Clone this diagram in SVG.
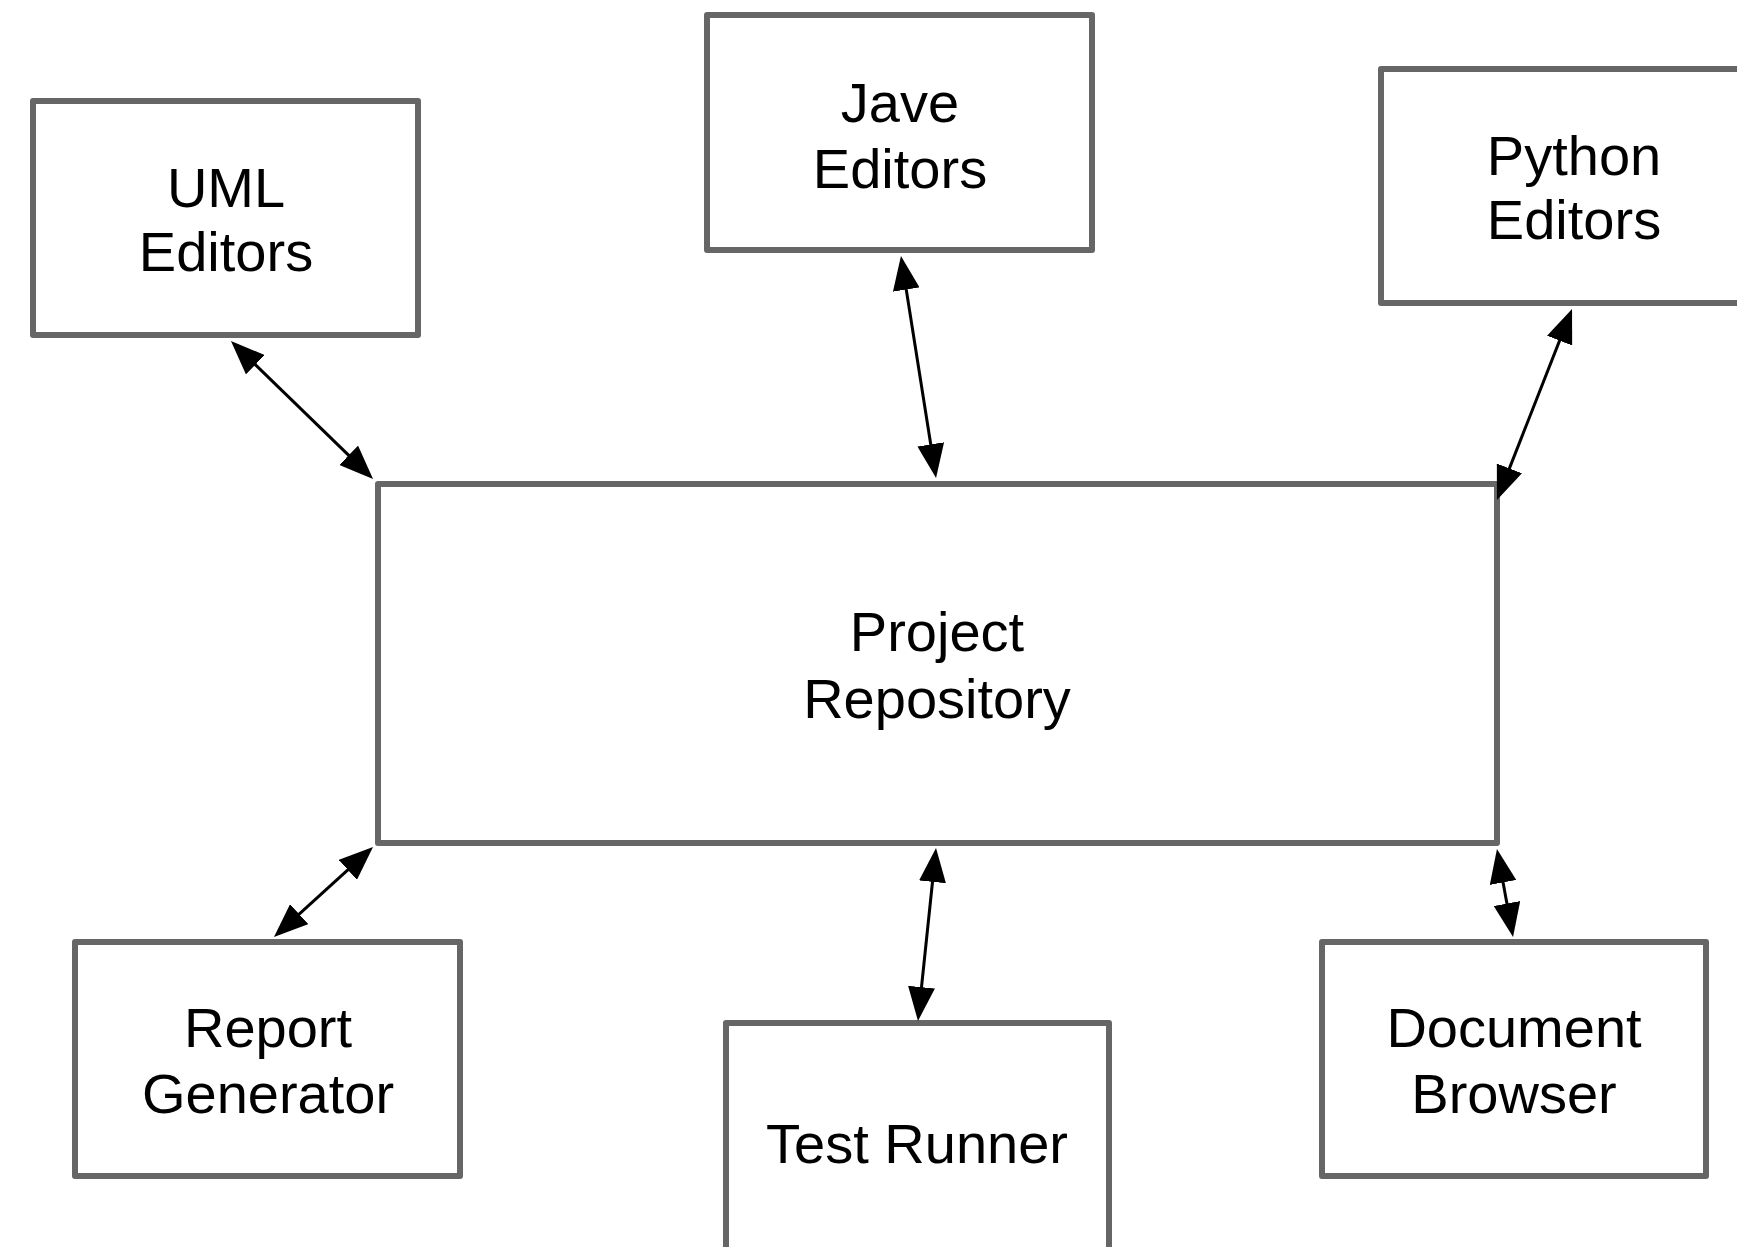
<svg xmlns="http://www.w3.org/2000/svg" width="1737" height="1247" viewBox="0 0 1737 1247">
  <style>
    .box { fill: #ffffff; stroke: #666666; stroke-width: 6; stroke-linejoin: round; }
    .label { font-family: "Liberation Sans", Arial, Helvetica, sans-serif; font-size: 56px; fill: #000000; text-anchor: middle; }
    .link { fill: none; stroke: #000000; stroke-width: 3; marker-start: url(#arrow); marker-end: url(#arrow); }
  </style>
  <defs>
    <!-- filled arrowhead used at both ends of every link; tip sits 8px past the line end -->
    <marker id="arrow" viewBox="0 0 34 27" refX="26" refY="13.5" markerWidth="34" markerHeight="27" markerUnits="userSpaceOnUse" orient="auto-start-reverse">
      <path d="M0,0 L34,13.5 L0,27 Z" fill="#000000"/>
    </marker>
  </defs>
  <rect width="1737" height="1247" fill="#ffffff"/>

  <g id="uml-editors">
    <rect class="box" x="33" y="101" width="385" height="234"/>
    <text class="label" x="226" y="207">UML</text>
    <text class="label" x="226" y="271">Editors</text>
  </g>

  <g id="jave-editors">
    <rect class="box" x="707" y="15" width="385" height="235"/>
    <text class="label" x="900" y="122">Jave</text>
    <text class="label" x="900" y="188">Editors</text>
  </g>

  <g id="python-editors">
    <rect class="box" x="1381" y="69" width="386" height="234"/>
    <text class="label" x="1574" y="175">Python</text>
    <text class="label" x="1574" y="239">Editors</text>
  </g>

  <g id="project-repository">
    <rect class="box" x="378" y="484" width="1119" height="359"/>
    <text class="label" x="937" y="651">Project</text>
    <text class="label" x="937" y="718">Repository</text>
  </g>

  <g id="report-generator">
    <rect class="box" x="75" y="942" width="385" height="234"/>
    <text class="label" x="268" y="1047">Report</text>
    <text class="label" x="268" y="1113">Generator</text>
  </g>

  <g id="test-runner">
    <rect class="box" x="726" y="1023" width="383" height="260"/>
    <text class="label" x="917" y="1163">Test Runner</text>
  </g>

  <g id="document-browser">
    <rect class="box" x="1322" y="942" width="384" height="234"/>
    <text class="label" x="1514" y="1047">Document</text>
    <text class="label" x="1514" y="1113">Browser</text>
  </g>

  <g id="connectors">
    <line class="link" x1="236.7" y1="346.6" x2="367.3" y2="473.4"/>
    <line class="link" x1="902.2" y1="263.9" x2="934.8" y2="470.1"/>
    <line class="link" x1="1569.1" y1="316.4" x2="1499.9" y2="492.6"/>
    <line class="link" x1="367.1" y1="852.4" x2="279.9" y2="931.6"/>
    <line class="link" x1="935.2" y1="856.0" x2="918.8" y2="1013.0"/>
    <line class="link" x1="1498.4" y1="856.9" x2="1511.6" y2="929.1"/>
  </g>
</svg>
